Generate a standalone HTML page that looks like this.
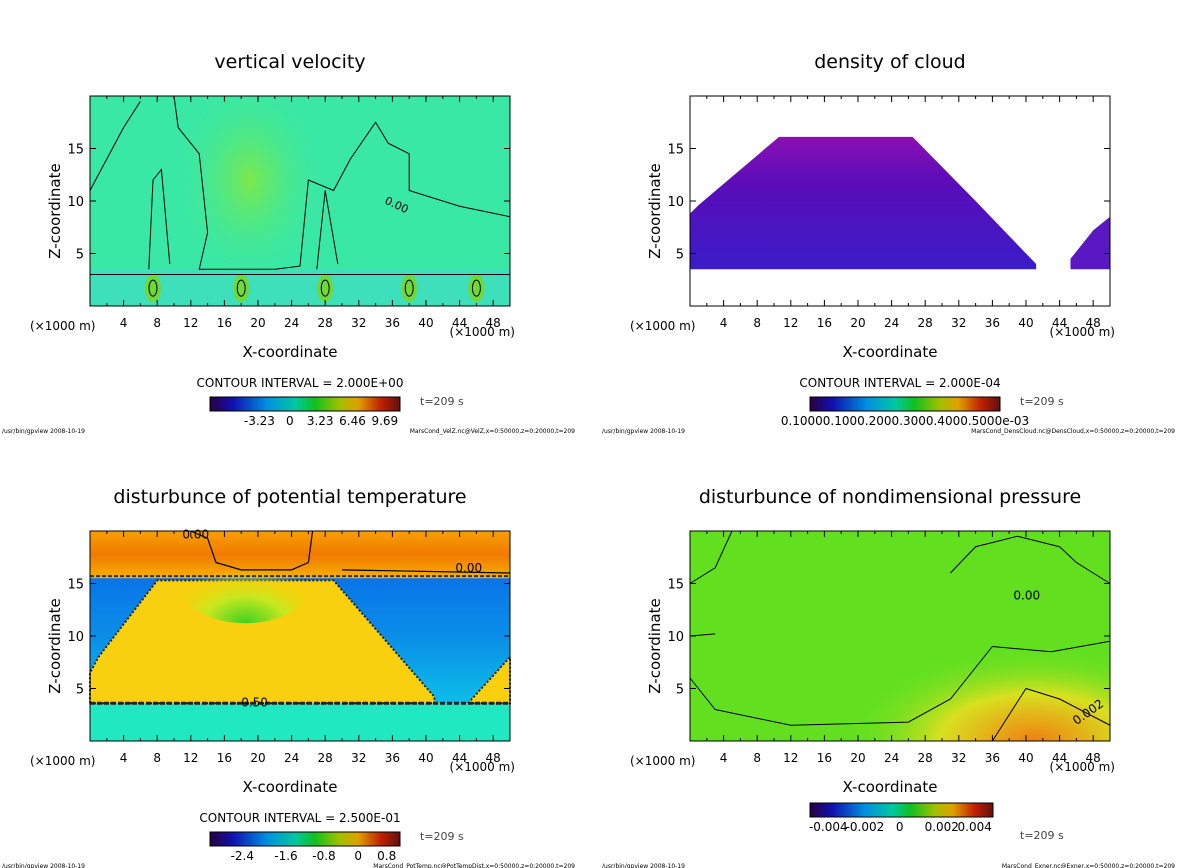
<!DOCTYPE html>
<html><head><meta charset="utf-8"><style>
body{margin:0;background:#fff;width:1200px;height:868px;overflow:hidden}
svg{display:block;font-family:"DejaVu Sans","Liberation Sans",sans-serif}
</style></head><body>
<svg id="s" width="1200" height="868" viewBox="0 0 1200 868">
<defs>
<linearGradient id="rainbow" x1="0" x2="1" y1="0" y2="0">
<stop offset="0" stop-color="#2a0040"/><stop offset="0.12" stop-color="#1010b0"/><stop offset="0.3" stop-color="#0090e0"/>
<stop offset="0.45" stop-color="#00c8a0"/><stop offset="0.55" stop-color="#10c020"/><stop offset="0.68" stop-color="#a0c000"/>
<stop offset="0.78" stop-color="#e0a000"/><stop offset="0.9" stop-color="#c02000"/><stop offset="1" stop-color="#601010"/>
</linearGradient>
<radialGradient id="vvcenter" cx="0.5" cy="0.4" r="0.5"><stop offset="0" stop-color="#7ee84a"/><stop offset="1" stop-color="#36e8a0" stop-opacity="0"/></radialGradient>
<linearGradient id="cloudg" x1="0" x2="0" y1="0" y2="1"><stop offset="0" stop-color="#8a10b4"/><stop offset="0.35" stop-color="#5a0cb8"/><stop offset="1" stop-color="#3a1cc8"/></linearGradient>
<linearGradient id="topor" x1="0" x2="0" y1="0" y2="1"><stop offset="0" stop-color="#f8a000"/><stop offset="0.5" stop-color="#f07a00"/><stop offset="1" stop-color="#f8b000"/></linearGradient>
<linearGradient id="blueg" x1="0" x2="0" y1="0" y2="1"><stop offset="0" stop-color="#0a5ee8"/><stop offset="0.5" stop-color="#0a8ee8"/><stop offset="1" stop-color="#10d8e8"/></linearGradient>
<radialGradient id="presg" cx="0.82" cy="1" r="0.45"><stop offset="0" stop-color="#f08010"/><stop offset="0.5" stop-color="#d8e020"/><stop offset="1" stop-color="#60e020" stop-opacity="0"/></radialGradient>
<radialGradient id="domeg" cx="0.5" cy="1" r="0.6"><stop offset="0" stop-color="#40d020"/><stop offset="0.5" stop-color="#c8e820"/><stop offset="1" stop-color="#f8d000" stop-opacity="0"/></radialGradient>
</defs>
</svg>
<script>
const NS="http://www.w3.org/2000/svg";
const svg=document.getElementById('s');
const xTicks=[4,8,12,16,20,24,28,32,36,40,44,48];
const xMinor=[2,6,10,14,18,22,26,30,34,38,42,46,50];
const zTicks=[5,10,15];
const titles=["vertical velocity","density of cloud","disturbunce of potential temperature","disturbunce of nondimensional pressure"];
const intervals=["CONTOUR INTERVAL = 2.000E+00","CONTOUR INTERVAL = 2.000E-04","CONTOUR INTERVAL = 2.500E-01",""];
const cbLabels=[["-3.23","0","3.23","6.46","9.69"],["0.10000.1000.2000.3000.4000.5000e-03"],["-2.4","-1.6","-0.8","0","0.8"],["-0.004","-0.002","0","0.002","0.004"]];
const cbPos=[[0.26,0.42,0.58,0.75,0.92],[0.5],[0.17,0.4,0.6,0.78,0.93],[0.1,0.3,0.49,0.72,0.9]];
const files=["MarsCond_VelZ.nc@VelZ,x=0:50000,z=0:20000,t=209","MarsCond_DensCloud.nc@DensCloud,x=0:50000,z=0:20000,t=209","MarsCond_PotTemp.nc@PotTempDist,x=0:50000,z=0:20000,t=209","MarsCond_Exner.nc@Exner,x=0:50000,z=0:20000,t=209"];
const cloudMain=[[0,3.5],[0,8.8],[1,9.6],[10.6,16.1],[26.5,16.1],[34,10],[37,7.5],[41.2,4],[41.2,3.5]];
const cloudRight=[[45.3,3.5],[45.3,4.5],[48,7.2],[50,8.5],[50,3.5]];
const ptYellow=[[0,3.6],[0,6.5],[1,8],[8,15.3],[29,15.3],[41,4.2],[41,3.6]];
const ptRight=[[45,3.6],[50,8],[50,3.6]];
const origins=[[90,96],[690,96],[90,531],[690,531]];
const W=420,H=210;
function el(t,a,p,name,txt){const e=document.createElementNS(NS,t);for(const k in a)e.setAttribute(k,a[k]);


if(txt!==undefined)e.textContent=txt;(p||svg).appendChild(e);return e;}
function mk(i){const [ox,oy]=origins[i];
 const X=v=>ox+v/50*W, Z=v=>oy+H-v/20*H;
 const poly=pts=>pts.map(p=>X(p[0]).toFixed(1)+","+Z(p[1]).toFixed(1)).join(" ");
 const g=el('g',{},svg,'panel-'+(i+1));
 el('text',{x:ox+W/2-10,y:oy-28,'text-anchor':'middle','font-size':19},g,'chart-title',titles[i]);
 if(i===0){
  el('rect',{x:ox,y:oy,width:W,height:H,fill:'#3ae8a6'},g,'field-background');
  el('rect',{x:X(10),y:oy,width:X(28)-X(10),height:H,fill:'url(#vvcenter)'},g,'updraft-region');
  el('rect',{x:ox,y:Z(3.5),width:W,height:Z(0)-Z(3.5),fill:'#40d8d0',opacity:0.5},g,'low-band');
  for(const c of [7.5,18,28,38,46]){el('ellipse',{cx:X(c),cy:Z(1.7),rx:8,ry:14,fill:'#70d838'},g,'updraft-cell');
   el('ellipse',{cx:X(c),cy:Z(1.7),rx:4,ry:8,fill:'none',stroke:'#000','stroke-width':1},g,'contour');}
  el('path',{d:`M${X(0)},${Z(11)} L${X(4)},${Z(17)} L${X(6)},${Z(19.5)} M${X(10)},${Z(20)} L${X(10.5)},${Z(17)} L${X(13)},${Z(14.5)} L${X(14)},${Z(7)} L${X(13)},${Z(3.5)} L${X(16)},${Z(3.5)} L${X(22)},${Z(3.5)} L${X(25)},${Z(3.8)} L${X(26)},${Z(12)} L${X(29)},${Z(11)} L${X(31)},${Z(14)} L${X(34)},${Z(17.5)} L${X(35.5)},${Z(15.5)} L${X(38)},${Z(14.5)} L${X(38)},${Z(11)} L${X(44)},${Z(9.5)} L${X(50)},${Z(8.5)} M${X(7)},${Z(3.5)} L${X(7.5)},${Z(12)} L${X(8.5)},${Z(13)} L${X(9.5)},${Z(4)} M${X(27)},${Z(3.5)} L${X(28)},${Z(11)} L${X(29.5)},${Z(4)} M${X(0)},${Z(3)} L${X(50)},${Z(3)}`,fill:'none',stroke:'#000','stroke-width':1},g,'contour-lines');
  el('text',{x:X(35),y:Z(9.8),'font-size':11,transform:`rotate(25 ${X(35)} ${Z(9.8)})`},g,'contour-label','0.00');
 } else if(i===1){
  el('polygon',{points:poly(cloudMain),fill:'url(#cloudg)'},g,'cloud-region-main');
  el('polygon',{points:poly(cloudRight),fill:'#5a18c4'},g,'cloud-region-right');
 } else if(i===2){
  el('rect',{x:ox,y:oy,width:W,height:H,fill:'url(#blueg)'},g,'stable-layer');
  el('rect',{x:ox,y:oy,width:W,height:Z(15.5)-oy,fill:'url(#topor)'},g,'upper-region');
  el('rect',{x:ox,y:Z(3.6),width:W,height:Z(0)-Z(3.6),fill:'#20e8c0'},g,'low-band');
  el('polygon',{points:poly(ptYellow),fill:'#f8d010',stroke:'#222','stroke-width':2,'stroke-dasharray':'2 2'},g,'warm-region');
  el('polygon',{points:poly(ptRight),fill:'#f8d010',stroke:'#222','stroke-width':2,'stroke-dasharray':'2 2'},g,'warm-region-right');
  el('ellipse',{cx:X(18.5),cy:Z(15.5),rx:70,ry:45,fill:'url(#domeg)'},g,'dome');
  el('path',{d:`M${X(12)},${Z(20)} L${X(14)},${Z(19.3)} L${X(15)},${Z(17)} L${X(18)},${Z(16.3)} L${X(24)},${Z(16.3)} L${X(26)},${Z(17)} L${X(26.5)},${Z(20)} M${X(30)},${Z(16.3)} L${X(50)},${Z(16)}`,fill:'none',stroke:'#000','stroke-width':1.2},g,'zero-contour');
  el('line',{x1:ox,x2:ox+W,y1:Z(15.7),y2:Z(15.7),stroke:'#333','stroke-width':2,'stroke-dasharray':'4 2'},g,'contour-dashed');
  el('line',{x1:ox,x2:ox+W,y1:Z(3.6),y2:Z(3.6),stroke:'#222','stroke-width':3,'stroke-dasharray':'5 2'},g,'contour-dashed');
  el('text',{x:X(11),y:Z(19.3),'font-size':12},g,'contour-label','0.00');
  el('text',{x:X(43.5),y:Z(16.1),'font-size':12},g,'contour-label','0.00');
  el('text',{x:X(18),y:Z(3.3),'font-size':12},g,'contour-label','0.50');
 } else {
  el('rect',{x:ox,y:oy,width:W,height:H,fill:'#62e020'},g,'field-background');
  el('rect',{x:ox,y:oy,width:W,height:H,fill:'url(#presg)'},g,'high-pressure');
  el('path',{d:`M${X(0)},${Z(6)} L${X(3)},${Z(3)} L${X(12)},${Z(1.5)} L${X(26)},${Z(1.8)} L${X(31)},${Z(4)} L${X(34)},${Z(7)} L${X(36)},${Z(9)} L${X(43)},${Z(8.5)} L${X(50)},${Z(9.5)} M${X(0)},${Z(10)} L${X(3)},${Z(10.2)} M${X(36)},${Z(0)} L${X(40)},${Z(5)} L${X(44)},${Z(4)} L${X(50)},${Z(1.5)} M${X(31)},${Z(16)} L${X(34)},${Z(18.5)} L${X(39)},${Z(19.5)} L${X(44)},${Z(18.5)} L${X(46)},${Z(17)} L${X(50)},${Z(15)} M${X(0)},${Z(15)} L${X(3)},${Z(16.5)} L${X(5)},${Z(20)}`,fill:'none',stroke:'#000','stroke-width':1},g,'contour-lines');
  el('text',{x:X(38.5),y:Z(13.5),'font-size':12},g,'contour-label','0.00');
  el('text',{x:X(46),y:Z(1.5),'font-size':12,transform:`rotate(-35 ${X(46)} ${Z(1.5)})`},g,'contour-label','0.002');
 }
 el('rect',{x:ox,y:oy,width:W,height:H,fill:'none',stroke:'#000','stroke-width':1},g,'plot-frame');
 for(const t of xMinor){el('line',{x1:X(t),x2:X(t),y1:oy+H,y2:oy+H-3,stroke:'#000'},g,'x-minor-tick');
  el('line',{x1:X(t),x2:X(t),y1:oy,y2:oy+3,stroke:'#000'},g,'x-minor-tick-top');}
 for(const t of xTicks){el('line',{x1:X(t),x2:X(t),y1:oy+H,y2:oy+H-6,stroke:'#000'},g,'x-tick');
  el('line',{x1:X(t),x2:X(t),y1:oy,y2:oy+6,stroke:'#000'},g,'x-tick-top');
  el('text',{x:X(t),y:oy+H+21,'text-anchor':'middle','font-size':12},g,'x-tick-label',t);}
 for(const t of zTicks){el('line',{x1:ox,x2:ox+6,y1:Z(t),y2:Z(t),stroke:'#000'},g,'z-tick');
  el('line',{x1:ox+W,x2:ox+W-6,y1:Z(t),y2:Z(t),stroke:'#000'},g,'z-tick-right');
  el('text',{x:ox-6,y:Z(t)+5,'text-anchor':'end','font-size':13},g,'z-tick-label',t);}
 el('text',{x:ox-60,y:oy+H+24,'font-size':12},g,'x-unit-left','(×1000 m)');
 el('text',{x:ox+W+5,y:oy+H+30,'text-anchor':'end','font-size':12},g,'x-unit-right','(×1000 m)');
 el('text',{x:ox+W/2-10,y:oy+H+51,'text-anchor':'middle','font-size':15},g,'x-axis-title','X-coordinate');
 el('text',{x:ox-30,y:oy+H/2+10,'text-anchor':'middle','font-size':15,transform:`rotate(-90 ${ox-30} ${oy+H/2+10})`},g,'y-axis-title','Z-coordinate');
 const cby= i===3? oy+H+62 : oy+H+91, cbx= ox+120, cbw= i===3?183:190;
 if(intervals[i])el('text',{x:ox+210,y:oy+H+81,'text-anchor':'middle','font-size':12},g,'contour-interval',intervals[i]);
 el('rect',{x:cbx,y:cby,width:cbw,height:14,fill:'url(#rainbow)',stroke:'#000'},g,'colorbar');
 cbLabels[i].forEach((l,k)=>el('text',{x:cbx+cbw*cbPos[i][k],y:cby+28,'text-anchor':'middle','font-size':12},g,'colorbar-label',l));
 el('text',{x:ox+330,y:i===3?oy+H+98:oy+H+99,'font-size':11,fill:'#444'},g,'time-label','t=209 s');
 el('text',{x:ox-88,y:oy+H+127,'font-size':6},g,'program-path','/usr/bin/gpview   2008-10-19');
 el('text',{x:ox+W+65,y:oy+H+127,'text-anchor':'end','font-size':6},g,'file-label',files[i]);
}
for(let i=0;i<4;i++)mk(i);
</script>
</body></html>
